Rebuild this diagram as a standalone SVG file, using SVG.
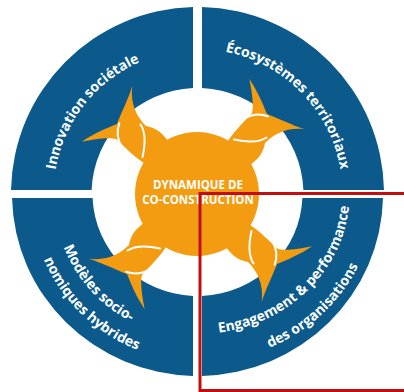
<svg xmlns="http://www.w3.org/2000/svg" width="404" height="392" viewBox="0 0 404 392">
  <style>
    .quad { fill: #0b5a8b; }
    .orange { fill: #f39c12; }
    .seam { fill: none; stroke: #ffffff; stroke-width: 2; stroke-linecap: round; }
    .ring { font-family: "Open Sans", "Liberation Sans", sans-serif; font-weight: 700; font-size: 14px; fill: #ffffff; }
    .core { font-family: "Open Sans", "Liberation Sans", sans-serif; font-weight: 700; font-size: 11.5px; fill: #ffffff; text-anchor: middle; }
    .frame { fill: none; stroke: #c20e0e; stroke-width: 3; }
  </style>
  <defs>
    <path id="arc-ul" d="M56.65,223.94 A144,144 0 0 1 192.48,50.09"/>
    <path id="arc-ur" d="M186.63,49.41 A145,145 0 0 1 341.78,208.40"/>
    <path id="arc-bl1" d="M54.90,173.96 A144,144 0 0 0 202.53,337.91"/>
    <path id="arc-bl2" d="M30.91,182.35 A167,167 0 0 0 214.96,360.08"/>
    <path id="arc-br1" d="M189.54,333.81 A152,140 0 0 0 348.37,176.94"/>
    <path id="arc-br2" d="M181.99,361.36 A178,168 0 0 0 374.82,179.36"/>
    <g id="blade">
      <path class="orange" d="M132.3,86 C128,100 121,113 117,124 C107,128 95,133 81.7,141.7 C95,139 109,137 116,139 C123,145 133,156 144,163 L170,166 L176,150 L164,136 C159,130 152,127 146,126 C137,117 130,104 132.3,86 Z"/>
      <path class="seam" d="M119.3,123.3 Q114.9,135 121.7,146.7"/>
      <path class="seam" d="M140.5,124.5 Q147.5,135 142.5,157"/>
    </g>
  </defs>

  <g id="innovation-societale">
    <path class="quad" d="M193,7.05 A186.5,186.5 0 0 0 11,190 L91.6,190 A106,106 0 0 1 193,88.1 Z"/>
    <text class="ring"><textPath href="#arc-ul" startOffset="50%" text-anchor="middle">Innovation sociétale</textPath></text>
  </g>

  <g id="ecosystemes-territoriaux">
    <path class="quad" d="M202,7.05 A186.5,186.5 0 0 1 384,190 L303.4,190 A106,106 0 0 0 202,88.1 Z"/>
    <text class="ring"><textPath href="#arc-ur" startOffset="50%" text-anchor="middle">Écosystèmes territoriaux</textPath></text>
  </g>

  <g id="modeles-socio-economiques">
    <path class="quad" d="M12.04,198 A185.5,182 0 0 0 193,375.9 L193,295.9 A105,102 0 0 1 92.58,198 Z"/>
    <text class="ring"><textPath href="#arc-bl1" startOffset="50%" text-anchor="middle">Modèles socio-</textPath></text>
    <text class="ring"><textPath href="#arc-bl2" startOffset="50%" text-anchor="middle">nomiques hybrides</textPath></text>
  </g>

  <g id="engagement-performance">
    <path class="quad" d="M383,198 A185.5,182 0 0 1 202,375.9 L202,295.9 A105,102 0 0 0 302.4,198 Z"/>
    <text class="ring"><textPath href="#arc-br1" startOffset="50%" text-anchor="middle">Engagement &amp; performance</textPath></text>
    <text class="ring"><textPath href="#arc-br2" startOffset="50%" text-anchor="middle">des organisations</textPath></text>
  </g>

  <g id="dynamique-co-construction">
    <use href="#blade"/>
    <use href="#blade" transform="rotate(90 197 194)"/>
    <use href="#blade" transform="rotate(180 197 194)"/>
    <use href="#blade" transform="rotate(270 197 194)"/>
    <circle class="orange" cx="197" cy="194" r="62"/>
    <text class="core" x="198" y="189">DYNAMIQUE DE</text>
    <text class="core" x="198" y="203.5">CO-CONSTRUCTION</text>
  </g>

  <g id="connectors">
    <path class="frame" d="M405,193.5 H200 V390.5 H405"/>
  </g>
</svg>
